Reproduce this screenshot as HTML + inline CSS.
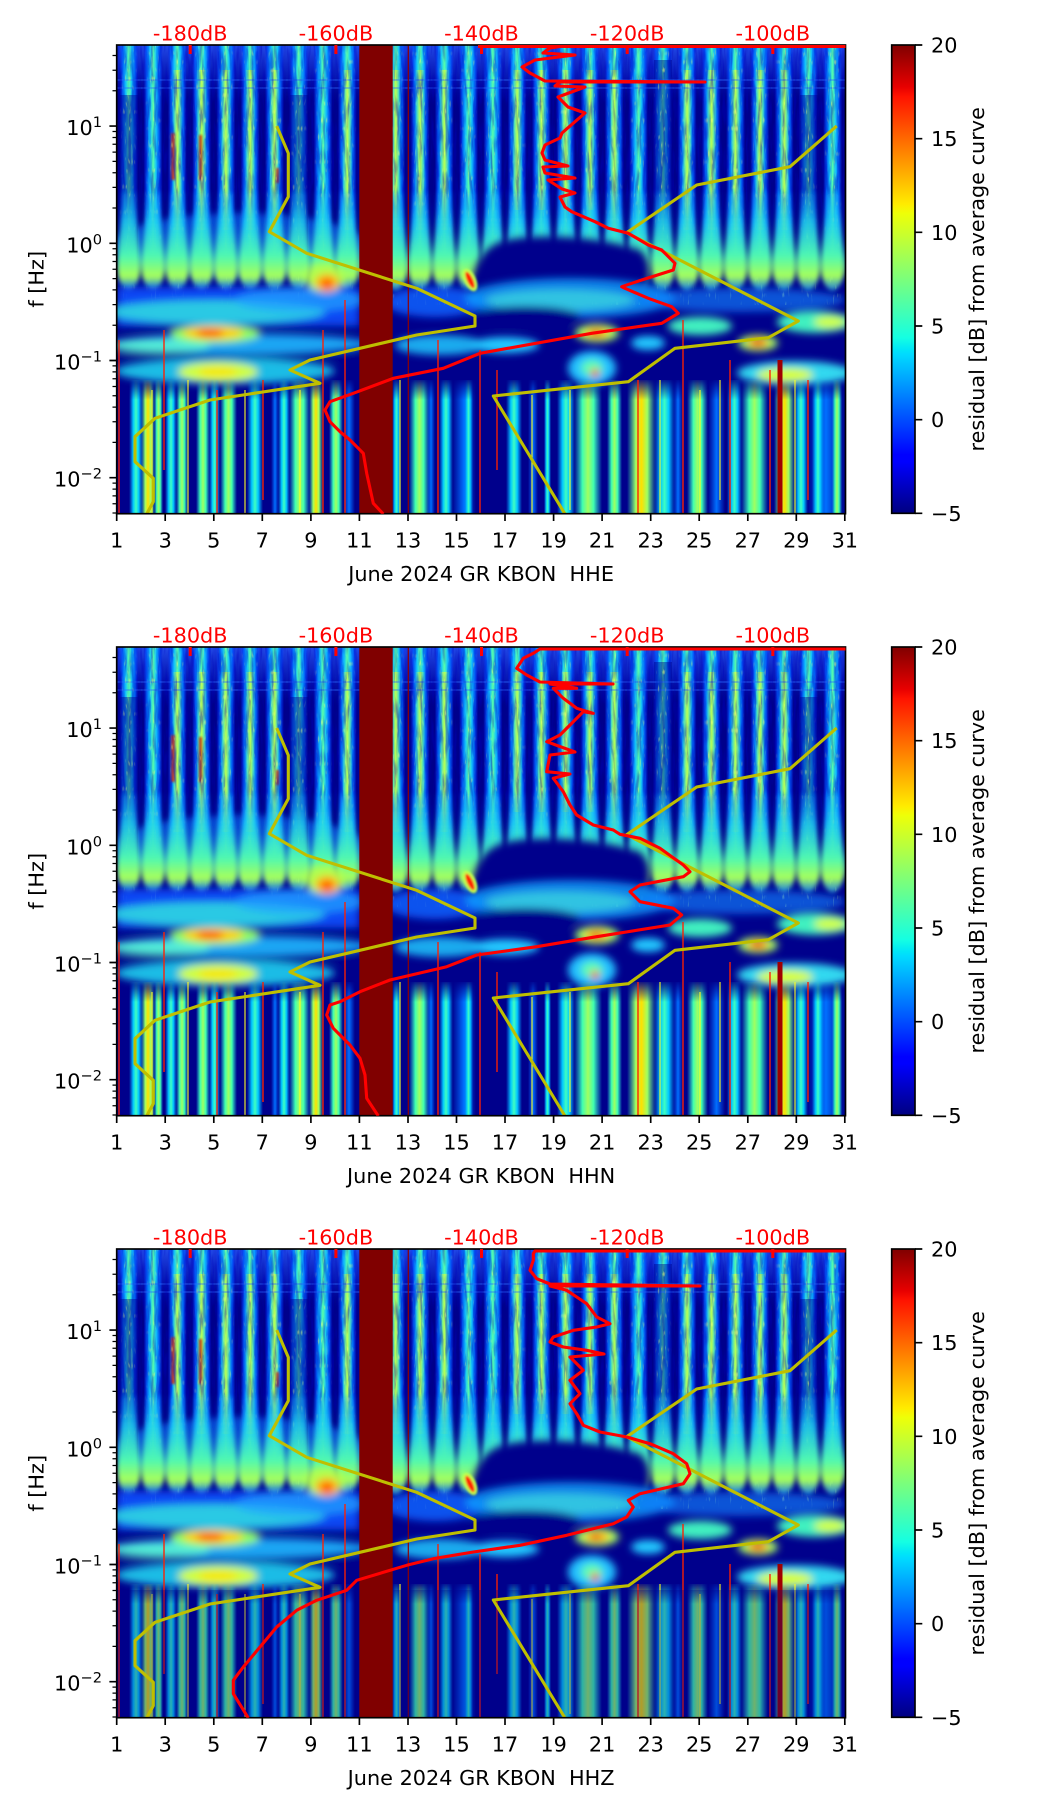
<!DOCTYPE html>
<html><head><meta charset="utf-8">
<style>
html,body{margin:0;padding:0;background:#fff;}
svg{display:block;}
text{font-family:"DejaVu Sans","Liberation Sans",sans-serif;font-size:20.8px;fill:#000;}
.r{fill:#ff0000;}
.pre{white-space:pre;}
</style></head><body>
<svg width="1052" height="1806" viewBox="0 0 1052 1806" xmlns="http://www.w3.org/2000/svg">
<defs>
<clipPath id="pc"><rect x="116.7" y="45" width="728.8" height="468.7"/></clipPath>
<linearGradient id="jet" x1="0" y1="1" x2="0" y2="0">
<stop offset="0" stop-color="#000080"/><stop offset="0.11" stop-color="#0000ff"/><stop offset="0.125" stop-color="#0000ff"/><stop offset="0.34" stop-color="#00dbff"/><stop offset="0.35" stop-color="#00e6f7"/><stop offset="0.375" stop-color="#15ffe2"/><stop offset="0.5" stop-color="#7bff7b"/><stop offset="0.64" stop-color="#eeff08"/><stop offset="0.66" stop-color="#ffec00"/><stop offset="0.75" stop-color="#ff9700"/><stop offset="0.89" stop-color="#ff1300"/><stop offset="0.91" stop-color="#e80000"/><stop offset="1" stop-color="#800000"/>
</linearGradient>
<linearGradient id="topfade" x1="0" y1="0" x2="0" y2="1">
<stop offset="0" stop-color="#2a5cff" stop-opacity=".8"/><stop offset=".5" stop-color="#1030e0" stop-opacity=".5"/><stop offset="1" stop-color="#000090" stop-opacity="0"/>
</linearGradient>
<linearGradient id="sg" x1="0" y1="0" x2="1" y2="0">
<stop offset="0" stop-color="#0030ff" stop-opacity="0"/><stop offset=".16" stop-color="#0060ff" stop-opacity=".85"/><stop offset=".33" stop-color="#10c0ff"/><stop offset=".5" stop-color="#58ffa8"/><stop offset=".67" stop-color="#10c0ff"/><stop offset=".84" stop-color="#0060ff" stop-opacity=".85"/><stop offset="1" stop-color="#0030ff" stop-opacity="0"/>
</linearGradient>
<linearGradient id="core" x1="0" y1="0" x2="1" y2="0">
<stop offset="0" stop-color="#a0ff60" stop-opacity="0"/><stop offset=".5" stop-color="#d0ff40"/><stop offset="1" stop-color="#a0ff60" stop-opacity="0"/>
</linearGradient>
<linearGradient id="bf" x1="0" y1="0" x2="0" y2="1">
<stop offset="0" stop-color="#10a0ff" stop-opacity=".3"/><stop offset=".3" stop-color="#20d0f0" stop-opacity=".8"/><stop offset=".65" stop-color="#50f8b0"/><stop offset=".85" stop-color="#a8ff58"/><stop offset="1" stop-color="#30c8ff" stop-opacity=".6"/>
</linearGradient>
<linearGradient id="gC" x1="0" y1="0" x2="1" y2="0">
<stop offset="0" stop-color="#00a0ff" stop-opacity="0"/><stop offset=".3" stop-color="#00c8ff"/><stop offset=".5" stop-color="#40ffc0"/><stop offset=".7" stop-color="#00c8ff"/><stop offset="1" stop-color="#00a0ff" stop-opacity="0"/>
</linearGradient>
<linearGradient id="gG" x1="0" y1="0" x2="1" y2="0">
<stop offset="0" stop-color="#20e0e0" stop-opacity="0"/><stop offset=".3" stop-color="#40ffb0"/><stop offset=".5" stop-color="#a0ff60"/><stop offset=".7" stop-color="#40ffb0"/><stop offset="1" stop-color="#20e0e0" stop-opacity="0"/>
</linearGradient>
<linearGradient id="gY" x1="0" y1="0" x2="1" y2="0">
<stop offset="0" stop-color="#40ffb0" stop-opacity="0"/><stop offset=".3" stop-color="#a0ff60"/><stop offset=".5" stop-color="#ffe000"/><stop offset=".7" stop-color="#a0ff60"/><stop offset="1" stop-color="#40ffb0" stop-opacity="0"/>
</linearGradient>
<linearGradient id="gB" x1="0" y1="0" x2="1" y2="0">
<stop offset="0" stop-color="#0060ff" stop-opacity="0"/><stop offset=".5" stop-color="#0070ff"/><stop offset="1" stop-color="#0060ff" stop-opacity="0"/>
</linearGradient>
<linearGradient id="mf" gradientUnits="userSpaceOnUse" x1="0" y1="378" x2="0" y2="400">
<stop offset="0" stop-color="#000"/><stop offset="1" stop-color="#fff"/>
</linearGradient>
<linearGradient id="nf" gradientUnits="userSpaceOnUse" x1="0" y1="190" x2="0" y2="235">
<stop offset="0" stop-color="#fff"/><stop offset="1" stop-color="#000"/>
</linearGradient>
<mask id="mb" maskUnits="userSpaceOnUse" x="100" y="300" width="800" height="250">
<rect x="100" y="370" width="800" height="160" fill="url(#mf)"/>
</mask>
<mask id="mn" maskUnits="userSpaceOnUse" x="100" y="40" width="800" height="220">
<rect x="100" y="40" width="800" height="220" fill="url(#nf)"/>
</mask>
<pattern id="stripes" patternUnits="userSpaceOnUse" x="116.7" y="0" width="24.27" height="1000">
<rect x="2.6" y="0" width="19" height="1000" fill="url(#sg)"/>
</pattern>
<pattern id="blobs" patternUnits="userSpaceOnUse" x="116.7" y="0" width="24.27" height="1000">
<path d="M5,192 C5,228 0.5,248 0.5,266 C0.5,281 6,290 12.1,291 C18,290 23.7,281 23.7,266 C23.7,248 19.2,228 19.2,192 Z" fill="url(#bf)"/>
</pattern>
<mask id="mst" maskUnits="userSpaceOnUse" x="100" y="40" width="760" height="300">
<rect x="116" y="45" width="731" height="260" fill="url(#stripes)"/>
</mask>
<filter id="b1" x="-20%" y="-20%" width="140%" height="140%"><feGaussianBlur stdDeviation="1"/></filter>
<filter id="b2" x="-10%" y="-20%" width="120%" height="140%"><feGaussianBlur stdDeviation="2.5"/></filter>
<filter id="b3" x="-20%" y="-40%" width="140%" height="180%"><feGaussianBlur stdDeviation="3.5"/></filter>
<filter id="b4" x="-10%" y="-30%" width="120%" height="160%"><feGaussianBlur stdDeviation="4"/></filter>
<filter id="nz" filterUnits="userSpaceOnUse" x="116" y="44" width="731" height="470">
<feTurbulence type="fractalNoise" baseFrequency="0.35 0.04" numOctaves="2" seed="7"/>
<feColorMatrix type="matrix" values="0 0 0 0 0  0 0 0 0 0  0 0 0 0 0.5  3.2 0 0 0 -1.35"/>
</filter>
<filter id="sp" filterUnits="userSpaceOnUse" x="116" y="44" width="731" height="470">
<feTurbulence type="fractalNoise" baseFrequency="0.6 0.12" numOctaves="1" seed="3"/>
<feColorMatrix type="matrix" values="0 0 0 0 0.85  0 0 0 0 1  0 0 0 0 0.2  0 5 0 0 -3.1"/>
</filter>

<g id="spec">
<g clip-path="url(#pc)">
<rect x="116" y="44" width="731" height="471" fill="#00008c"/>
<rect x="116" y="45" width="731" height="62" fill="url(#topfade)"/>
<ellipse cx="240" cy="245" rx="125" ry="32" fill="#1070ff" opacity=".6" filter="url(#b3)"/>
<rect x="116" y="45" width="731" height="215" fill="url(#stripes)"/>
<g opacity=".8">
<rect x="172.4" y="70" width="10" height="160" fill="url(#core)"/>
<rect x="196.6" y="70" width="10" height="160" fill="url(#core)"/>
<rect x="220.9" y="70" width="10" height="160" fill="url(#core)"/>
<rect x="245.2" y="70" width="10" height="160" fill="url(#core)"/>
<rect x="269.5" y="70" width="10" height="160" fill="url(#core)"/>
<rect x="342.3" y="70" width="10" height="160" fill="url(#core)"/>
<rect x="390.8" y="70" width="10" height="160" fill="url(#core)"/>
<rect x="415.1" y="70" width="10" height="160" fill="url(#core)"/>
<rect x="439.4" y="70" width="10" height="160" fill="url(#core)"/>
<rect x="512.2" y="70" width="10" height="140" fill="url(#core)"/>
<rect x="536.5" y="70" width="10" height="140" fill="url(#core)"/>
<rect x="560.8" y="70" width="10" height="140" fill="url(#core)"/>
<rect x="585" y="70" width="10" height="140" fill="url(#core)"/>
<rect x="609.4" y="70" width="10" height="160" fill="url(#core)"/>
<rect x="682.2" y="70" width="10" height="160" fill="url(#core)"/>
<rect x="706.5" y="70" width="10" height="160" fill="url(#core)"/>
<rect x="730.7" y="70" width="10" height="160" fill="url(#core)"/>
<rect x="755" y="70" width="10" height="160" fill="url(#core)"/>
<rect x="779.3" y="70" width="10" height="160" fill="url(#core)"/>
</g>
<g fill="#00008c" opacity=".45">
<rect x="120" y="95" width="18" height="200"/>
<rect x="290" y="95" width="18" height="200"/>
<rect x="654" y="60" width="18" height="235"/>
<rect x="800" y="95" width="18" height="200"/>
</g>
<g filter="url(#b1)">
<rect x="171" y="133" width="4" height="47" fill="#e02000" opacity=".8"/>
<rect x="199" y="135" width="3" height="45" fill="#d01000" opacity=".8"/>
<rect x="276" y="168" width="3" height="15" fill="#e02000" opacity=".8"/>
</g>
<path d="M117,80 H845 M117,88 H845" stroke="#2a6cff" stroke-width="1.2" opacity=".6"/>
<g mask="url(#mn)"><rect x="116" y="45" width="731" height="200" filter="url(#nz)" opacity=".4"/></g>
<g mask="url(#mst)"><rect x="116" y="45" width="731" height="200" filter="url(#sp)" opacity=".9"/></g>
<rect x="116" y="190" width="731" height="110" fill="url(#blobs)" filter="url(#b2)"/>
<path d="M470,300 C470,275 478,250 500,242 C530,232 600,236 640,250 C655,262 650,290 640,300 Z" fill="#00008c" filter="url(#b4)"/>
<g filter="url(#b4)">
<rect x="117" y="287" width="242" height="38" fill="#0a50ff" opacity=".9"/>
<ellipse cx="215" cy="312" rx="110" ry="12" fill="#30e0e0" opacity=".85"/>
<ellipse cx="300" cy="300" rx="65" ry="12" fill="#20a0ff" opacity=".75"/>
<rect x="117" y="325" width="242" height="6" fill="#000090" opacity=".8"/>
<ellipse cx="240" cy="344" rx="130" ry="10" fill="#20b8ff" opacity=".9"/>
<ellipse cx="160" cy="346" rx="50" ry="7" fill="#60ffd0" opacity=".8"/>
<ellipse cx="215" cy="334" rx="45" ry="9" fill="#90ff60"/>
<ellipse cx="213" cy="333" rx="30" ry="6.5" fill="#ffd000"/>
<ellipse cx="210" cy="333" rx="14" ry="4" fill="#ff5000"/>
<rect x="117" y="354" width="242" height="5" fill="#000090" opacity=".8"/>
<ellipse cx="225" cy="371" rx="110" ry="13" fill="#20d0f0" opacity=".9"/>
<ellipse cx="218" cy="372" rx="40" ry="10" fill="#d0ff40"/>
<ellipse cx="218" cy="372" rx="20" ry="5" fill="#ffe000" opacity=".8"/>
<ellipse cx="325" cy="278" rx="20" ry="14" fill="#b0ff50"/>
<ellipse cx="327" cy="283" rx="12" ry="9" fill="#ffb000"/>
<ellipse cx="327" cy="284" rx="5" ry="5" fill="#ff3000"/>
<ellipse cx="435" cy="302" rx="50" ry="15" fill="#0860ff" opacity=".85"/>
<ellipse cx="440" cy="345" rx="45" ry="10" fill="#20c8ff" opacity=".85"/>
<ellipse cx="570" cy="298" rx="105" ry="20" fill="#10a0ff" opacity=".8"/>
<ellipse cx="560" cy="300" rx="75" ry="11" fill="#40e0e0" opacity=".7"/>
<ellipse cx="525" cy="316" rx="55" ry="10" fill="#00008c"/>
<ellipse cx="740" cy="300" rx="105" ry="12" fill="#1080ff" opacity=".65"/>
<ellipse cx="597" cy="333" rx="22" ry="9" fill="#a0ff60"/>
<ellipse cx="597" cy="333" rx="13" ry="5.5" fill="#ffc000"/>
<ellipse cx="596" cy="333" rx="6" ry="3" fill="#e01000"/>
<ellipse cx="700" cy="326" rx="32" ry="9" fill="#40f0c0"/>
<ellipse cx="815" cy="322" rx="38" ry="11" fill="#40f0c0"/>
<ellipse cx="830" cy="322" rx="16" ry="6" fill="#d0ff40"/>
<ellipse cx="758" cy="343" rx="20" ry="8" fill="#a0ff60"/>
<ellipse cx="758" cy="343" rx="11" ry="5" fill="#ffa000"/>
<ellipse cx="758" cy="343" rx="5" ry="3" fill="#e00000"/>
<ellipse cx="505" cy="345" rx="34" ry="8" fill="#20c8ff"/>
<ellipse cx="648" cy="343" rx="17" ry="7" fill="#20c8ff"/>
<ellipse cx="592" cy="368" rx="24" ry="17" fill="#20c0ff"/>
<ellipse cx="592" cy="368" rx="11" ry="8" fill="#60ffb0"/>
<ellipse cx="595" cy="373" rx="4" ry="4" fill="#ff2000"/>
<ellipse cx="795" cy="373" rx="58" ry="12" fill="#30d8f0"/>
<ellipse cx="785" cy="375" rx="28" ry="7" fill="#d8ff30"/>
</g>
<g filter="url(#b1)">
<ellipse cx="470" cy="280" rx="6" ry="12" fill="#c0ff50" transform="rotate(-25 470 280)"/>
<ellipse cx="470" cy="280" rx="3" ry="9" fill="#ff2000" transform="rotate(-25 470 280)"/>
</g>
<g mask="url(#mb)">
<rect x="129" y="380" width="14" height="134" fill="url(#gC)"/>
<rect x="141" y="380" width="14" height="134" fill="url(#gY)"/>
<rect x="154" y="380" width="9" height="134" fill="url(#gG)"/>
<rect x="165" y="380" width="12" height="134" fill="url(#gC)"/>
<rect x="176" y="380" width="12" height="134" fill="url(#gG)"/>
<rect x="196" y="380" width="14" height="134" fill="url(#gG)"/>
<rect x="209" y="380" width="11" height="134" fill="url(#gC)"/>
<rect x="220" y="380" width="17" height="134" fill="url(#gG)"/>
<rect x="247" y="380" width="16" height="134" fill="url(#gC)"/>
<rect x="271" y="380" width="8" height="134" fill="url(#gB)"/>
<rect x="278" y="380" width="12" height="134" fill="url(#gC)"/>
<rect x="289" y="380" width="21" height="134" fill="url(#gG)"/>
<rect x="309" y="380" width="14" height="134" fill="url(#gY)"/>
<rect x="329" y="380" width="14" height="134" fill="url(#gG)"/>
<rect x="343" y="380" width="12" height="134" fill="url(#gB)"/>
<rect x="392" y="380" width="9" height="134" fill="url(#gC)"/>
<rect x="409" y="380" width="21" height="134" fill="url(#gG)"/>
<rect x="427" y="380" width="8" height="134" fill="url(#gB)"/>
<rect x="439" y="380" width="14" height="134" fill="url(#gC)"/>
<rect x="452" y="380" width="24" height="134" fill="url(#gB)"/>
<rect x="464" y="380" width="9" height="134" fill="url(#gC)"/>
<rect x="506" y="380" width="16" height="134" fill="url(#gC)"/>
<rect x="528" y="380" width="10" height="134" fill="url(#gB)"/>
<rect x="544" y="380" width="7" height="134" fill="url(#gC)"/>
<rect x="557" y="380" width="18" height="134" fill="url(#gC)"/>
<rect x="574" y="380" width="28" height="134" fill="url(#gG)"/>
<rect x="607" y="380" width="15" height="134" fill="url(#gG)"/>
<rect x="627" y="380" width="29" height="134" fill="url(#gY)"/>
<rect x="654" y="380" width="21" height="134" fill="url(#gC)"/>
<rect x="673" y="380" width="10" height="134" fill="url(#gB)"/>
<rect x="687" y="380" width="21" height="134" fill="url(#gG)"/>
<rect x="708" y="380" width="17" height="134" fill="url(#gB)"/>
<rect x="727" y="380" width="15" height="134" fill="url(#gC)"/>
<rect x="741" y="380" width="27" height="134" fill="url(#gG)"/>
<rect x="774" y="380" width="21" height="134" fill="url(#gY)"/>
<rect x="794" y="380" width="14" height="134" fill="url(#gC)"/>
<rect x="807" y="380" width="38" height="134" fill="url(#gB)"/>
<rect x="812" y="380" width="12" height="134" fill="url(#gC)"/>
<rect x="832" y="380" width="10" height="134" fill="url(#gG)"/>
</g>
<path d="M119,340V514 M164,330V470 M217,390V514 M263,380V500 M323,330V514 M345,300V514 M438,340V514 M480,350V514 M497,370V470 M638,380V514 M683,320V514 M730,360V514 M770,370V514 M808,380V500" stroke="#ff2000" stroke-width="1.5" opacity=".9"/>
<path d="M188,380V514 M245,390V514 M300,390V514 M400,380V514 M570,390V510 M660,380V514 M720,380V500 M795,380V514 M152,390V514 M532,395V514 M700,390V514" stroke="#ffff20" stroke-width="1.2" opacity=".9"/>
<path d="M780,360V514" stroke="#a00000" stroke-width="5"/>
<rect x="359.3" y="44" width="33.4" height="471" fill="#800000"/>
<path d="M408.3,45V514" stroke="#900000" stroke-width="1.2"/>
</g>
</g>

<g id="ov">
<g clip-path="url(#pc)" fill="none" stroke="#bfbf00" stroke-width="3.1" stroke-linejoin="round">
<path d="M276.7,126 L288.3,153.3 L288.3,196.7 L269.3,231.7 L306.7,253.3 L416.7,288.3 L475,316 L475,326 L416.7,335 L310,360 L290,370 L320,383.3 L210,400 L155,418.3 L135,436.7 L135,461.7 L153.3,478.3 L153.3,501.7 L146.7,514"/>
<path d="M836.7,126 L790,166.7 L696.7,185 L626.7,232.7 L798.3,321 L768.3,337.7 L675,348.3 L628.3,381.7 L493.3,396 L565,514"/>
</g>
<rect x="116.7" y="45" width="728.8" height="468.7" fill="none" stroke="#000" stroke-width="1.67"/>
<path d="M116.7,126.1h-7.3M116.7,243.3h-7.3M116.7,360.5h-7.3M116.7,477.7h-7.3" stroke="#000" stroke-width="1.67"/>
<path d="M116.7,55.5h-4.2M116.7,70.2h-4.2M116.7,90.8h-4.2M116.7,131.5h-4.2M116.7,137.5h-4.2M116.7,144.3h-4.2M116.7,152.1h-4.2M116.7,161.4h-4.2M116.7,172.7h-4.2M116.7,187.4h-4.2M116.7,208h-4.2M116.7,248.7h-4.2M116.7,254.7h-4.2M116.7,261.5h-4.2M116.7,269.3h-4.2M116.7,278.6h-4.2M116.7,289.9h-4.2M116.7,304.6h-4.2M116.7,325.2h-4.2M116.7,365.9h-4.2M116.7,371.9h-4.2M116.7,378.7h-4.2M116.7,386.5h-4.2M116.7,395.8h-4.2M116.7,407.1h-4.2M116.7,421.8h-4.2M116.7,442.4h-4.2M116.7,483.1h-4.2M116.7,489.1h-4.2M116.7,495.9h-4.2M116.7,503.7h-4.2M116.7,513h-4.2" stroke="#000" stroke-width="1.25"/>
<path d="M116.7,513.7v7.3M165.2,513.7v7.3M213.8,513.7v7.3M262.3,513.7v7.3M310.9,513.7v7.3M359.4,513.7v7.3M408,513.7v7.3M456.5,513.7v7.3M505,513.7v7.3M553.6,513.7v7.3M602.1,513.7v7.3M650.7,513.7v7.3M699.2,513.7v7.3M747.8,513.7v7.3M796.3,513.7v7.3M844.8,513.7v7.3" stroke="#000" stroke-width="1.67"/>
<path d="M190.2,45v9M335.9,45v9M481.5,45v9M627.2,45v9M772.8,45v9" stroke="#ff0000" stroke-width="3"/>
<rect x="891.7" y="45" width="23.3" height="468.3" fill="url(#jet)" stroke="#000" stroke-width="1.67"/>
<path d="M915,45h7.3M915,138.7h7.3M915,232.3h7.3M915,326h7.3M915,419.7h7.3M915,513.3h7.3" stroke="#000" stroke-width="1.67"/>
</g>
</defs>

<rect width="1052" height="1806" fill="#fff"/>

<!-- Panel 1 -->
<g>
<use href="#spec"/>
<use href="#ov"/>
<g clip-path="url(#pc)" fill="none" stroke="#ff0000" stroke-width="3.1" stroke-linejoin="round">
<path d="M383.3,514 L373.3,503.3 L366.7,473.3 L363.3,453.3 L350,440 L340,431.7 L330,421.7 L325,410 L330,401.7 L353.3,393.3 L393.3,378.3 L443.3,368.3 L480,353.3 L591.7,333.3 L661.7,323.3 L678.3,313.3 L671.7,306.7 L648.3,298.3 L625,288.3 L621.7,286.7 L641.7,280 L673.3,270 L675,263.3 L661.7,250 L648.3,245 L628.3,233.3 L608.3,228.3 L595,221.7 L571.7,211.7 L565,207 L560,197 L575,193 L562,189 L548,180 L575,178 L545,173 L543,167 L568,166 L545,160 L542,153 L545,145 L560,138 L562,133 L585,113 L568,107 L558,97 L585,87 L555,86 L560,82 L705,82 L545,81 L530,73 L522,67 L535,60 L575,55 L543,53 L550,48 L560,46.5 L846,46.5"/>
<path d="M478,46.5 H846"/>
</g>
</g>
<g>
<text class="r" x="190.2" y="40.7" text-anchor="middle">-180dB</text>
<text class="r" x="335.9" y="40.7" text-anchor="middle">-160dB</text>
<text class="r" x="481.5" y="40.7" text-anchor="middle">-140dB</text>
<text class="r" x="627.2" y="40.7" text-anchor="middle">-120dB</text>
<text class="r" x="772.8" y="40.7" text-anchor="middle">-100dB</text>
<text x="102" y="135.1" text-anchor="end">10<tspan dy="-8" font-size="14.6">1</tspan></text>
<text x="102" y="252.3" text-anchor="end">10<tspan dy="-8" font-size="14.6">0</tspan></text>
<text x="102" y="369.5" text-anchor="end">10<tspan dy="-8" font-size="14.6">−1</tspan></text>
<text x="102" y="486.7" text-anchor="end">10<tspan dy="-8" font-size="14.6">−2</tspan></text>
<text x="116.7" y="547.5" text-anchor="middle">1</text><text x="165.2" y="547.5" text-anchor="middle">3</text><text x="213.8" y="547.5" text-anchor="middle">5</text><text x="262.3" y="547.5" text-anchor="middle">7</text><text x="310.9" y="547.5" text-anchor="middle">9</text><text x="359.4" y="547.5" text-anchor="middle">11</text><text x="408" y="547.5" text-anchor="middle">13</text><text x="456.5" y="547.5" text-anchor="middle">15</text><text x="505" y="547.5" text-anchor="middle">17</text><text x="553.6" y="547.5" text-anchor="middle">19</text><text x="602.1" y="547.5" text-anchor="middle">21</text><text x="650.7" y="547.5" text-anchor="middle">23</text><text x="699.2" y="547.5" text-anchor="middle">25</text><text x="747.8" y="547.5" text-anchor="middle">27</text><text x="796.3" y="547.5" text-anchor="middle">29</text><text x="844.8" y="547.5" text-anchor="middle">31</text>
<text class="pre" x="481.1" y="581" text-anchor="middle">June 2024 GR KBON  HHE</text>
<text x="43.5" y="279.3" text-anchor="middle" transform="rotate(-90 43.5 279.3)">f [Hz]</text>
<text x="931" y="52.5">20</text><text x="931" y="146.2">15</text><text x="931" y="239.8">10</text><text x="931" y="333.5">5</text><text x="931" y="427.2">0</text><text x="931" y="520.8">−5</text>
<text x="984" y="279.3" text-anchor="middle" transform="rotate(-90 984 279.3)">residual [dB] from average curve</text>
</g>

<!-- Panel 2 -->
<g transform="translate(0,602)">
<use href="#spec"/>
<use href="#ov"/>
<g clip-path="url(#pc)" fill="none" stroke="#ff0000" stroke-width="3.1" stroke-linejoin="round">
<path d="M378.3,514 L366.7,496.3 L365,473 L360,456.3 L350,443 L333.3,426.3 L326.7,413 L330,403 L340,399.7 L360,389.7 L390,378 L446.7,364.7 L476.7,353 L536.7,344.7 L596.7,334.7 L670,323 L681.7,313 L673.3,306.3 L640,299.7 L630,289.7 L640,283 L683.3,274.7 L690,269.7 L683.3,263 L660,246.3 L640,236.3 L620,232.3 L613.3,228 L593.3,223 L576.7,213 L570,203 L563.3,189.7 L553.3,176.3 L570,172 L546.7,169.7 L550,153 L575,150 L546.7,139.7 L560,133 L570,123 L583.3,109.7 L593.3,111.3 L576.7,106.3 L563.3,96.3 L553.3,86.3 L576.7,86.3 L550,82 L613,82 L540,80 L526.7,73 L516.7,66.3 L523.3,56.3 L533.3,51.3 L540,47 L846,47"/>
</g>
<text class="r" x="190.2" y="40.7" text-anchor="middle">-180dB</text>
<text class="r" x="335.9" y="40.7" text-anchor="middle">-160dB</text>
<text class="r" x="481.5" y="40.7" text-anchor="middle">-140dB</text>
<text class="r" x="627.2" y="40.7" text-anchor="middle">-120dB</text>
<text class="r" x="772.8" y="40.7" text-anchor="middle">-100dB</text>
<text x="102" y="135.1" text-anchor="end">10<tspan dy="-8" font-size="14.6">1</tspan></text>
<text x="102" y="252.3" text-anchor="end">10<tspan dy="-8" font-size="14.6">0</tspan></text>
<text x="102" y="369.5" text-anchor="end">10<tspan dy="-8" font-size="14.6">−1</tspan></text>
<text x="102" y="486.7" text-anchor="end">10<tspan dy="-8" font-size="14.6">−2</tspan></text>
<text x="116.7" y="547.5" text-anchor="middle">1</text><text x="165.2" y="547.5" text-anchor="middle">3</text><text x="213.8" y="547.5" text-anchor="middle">5</text><text x="262.3" y="547.5" text-anchor="middle">7</text><text x="310.9" y="547.5" text-anchor="middle">9</text><text x="359.4" y="547.5" text-anchor="middle">11</text><text x="408" y="547.5" text-anchor="middle">13</text><text x="456.5" y="547.5" text-anchor="middle">15</text><text x="505" y="547.5" text-anchor="middle">17</text><text x="553.6" y="547.5" text-anchor="middle">19</text><text x="602.1" y="547.5" text-anchor="middle">21</text><text x="650.7" y="547.5" text-anchor="middle">23</text><text x="699.2" y="547.5" text-anchor="middle">25</text><text x="747.8" y="547.5" text-anchor="middle">27</text><text x="796.3" y="547.5" text-anchor="middle">29</text><text x="844.8" y="547.5" text-anchor="middle">31</text>
<text class="pre" x="481.1" y="581" text-anchor="middle">June 2024 GR KBON  HHN</text>
<text x="43.5" y="279.3" text-anchor="middle" transform="rotate(-90 43.5 279.3)">f [Hz]</text>
<text x="931" y="52.5">20</text><text x="931" y="146.2">15</text><text x="931" y="239.8">10</text><text x="931" y="333.5">5</text><text x="931" y="427.2">0</text><text x="931" y="520.8">−5</text>
<text x="984" y="279.3" text-anchor="middle" transform="rotate(-90 984 279.3)">residual [dB] from average curve</text>
</g>

<!-- Panel 3 -->
<g transform="translate(0,1204)">
<use href="#spec"/>
<rect x="117" y="386" width="242" height="128" fill="#00008c" opacity=".3"/>
<rect x="393" y="386" width="452" height="128" fill="#00008c" opacity=".3"/>
<use href="#ov"/>
<g clip-path="url(#pc)" fill="none" stroke="#ff0000" stroke-width="3.1" stroke-linejoin="round">
<path d="M248.3,514 L233.3,489.7 L233.3,476.3 L243.3,463 L260,443 L276.7,423 L296.7,406.3 L316.7,396.3 L346.7,386.3 L356.7,376.3 L406.7,361.3 L433.3,354.7 L473.3,348 L520,341.3 L566.7,331.3 L613.3,319.7 L626.7,313 L633.3,303 L628.3,296.3 L640,289.7 L683.3,279.7 L690,269.7 L686.7,259.7 L673.3,249.7 L650,239.7 L626.7,233 L600,228 L583.3,221.3 L576.7,209.7 L570,199.7 L580,189.7 L570,176.3 L583.3,166.3 L570,153 L604,150 L586.7,146.3 L563.3,143 L550,138 L553.3,133 L573.3,126.3 L596.7,123 L610,119.7 L596.7,113 L586.7,99.7 L576.7,93 L566.7,86.3 L550,82 L700,82 L550,80 L536.7,74.7 L530,66.3 L533.3,56.3 L533.3,49.7 L535,47 L846,47"/>
</g>
<text class="r" x="190.2" y="40.7" text-anchor="middle">-180dB</text>
<text class="r" x="335.9" y="40.7" text-anchor="middle">-160dB</text>
<text class="r" x="481.5" y="40.7" text-anchor="middle">-140dB</text>
<text class="r" x="627.2" y="40.7" text-anchor="middle">-120dB</text>
<text class="r" x="772.8" y="40.7" text-anchor="middle">-100dB</text>
<text x="102" y="135.1" text-anchor="end">10<tspan dy="-8" font-size="14.6">1</tspan></text>
<text x="102" y="252.3" text-anchor="end">10<tspan dy="-8" font-size="14.6">0</tspan></text>
<text x="102" y="369.5" text-anchor="end">10<tspan dy="-8" font-size="14.6">−1</tspan></text>
<text x="102" y="486.7" text-anchor="end">10<tspan dy="-8" font-size="14.6">−2</tspan></text>
<text x="116.7" y="547.5" text-anchor="middle">1</text><text x="165.2" y="547.5" text-anchor="middle">3</text><text x="213.8" y="547.5" text-anchor="middle">5</text><text x="262.3" y="547.5" text-anchor="middle">7</text><text x="310.9" y="547.5" text-anchor="middle">9</text><text x="359.4" y="547.5" text-anchor="middle">11</text><text x="408" y="547.5" text-anchor="middle">13</text><text x="456.5" y="547.5" text-anchor="middle">15</text><text x="505" y="547.5" text-anchor="middle">17</text><text x="553.6" y="547.5" text-anchor="middle">19</text><text x="602.1" y="547.5" text-anchor="middle">21</text><text x="650.7" y="547.5" text-anchor="middle">23</text><text x="699.2" y="547.5" text-anchor="middle">25</text><text x="747.8" y="547.5" text-anchor="middle">27</text><text x="796.3" y="547.5" text-anchor="middle">29</text><text x="844.8" y="547.5" text-anchor="middle">31</text>
<text class="pre" x="481.1" y="581" text-anchor="middle">June 2024 GR KBON  HHZ</text>
<text x="43.5" y="279.3" text-anchor="middle" transform="rotate(-90 43.5 279.3)">f [Hz]</text>
<text x="931" y="52.5">20</text><text x="931" y="146.2">15</text><text x="931" y="239.8">10</text><text x="931" y="333.5">5</text><text x="931" y="427.2">0</text><text x="931" y="520.8">−5</text>
<text x="984" y="279.3" text-anchor="middle" transform="rotate(-90 984 279.3)">residual [dB] from average curve</text>
</g>
</svg>
</body></html>
